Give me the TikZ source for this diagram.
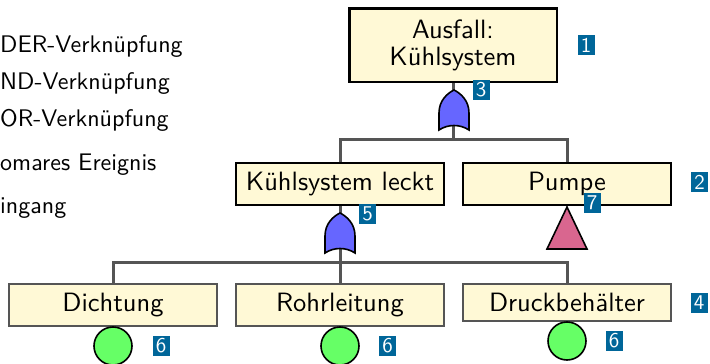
\documentclass[tikz,border=0pt]{standalone}
\usepackage{fontspec}
\setsansfont{lmsans10-regular.otf}
\definecolor{boxfill}{RGB}{255,249,214}
\definecolor{gateblue}{RGB}{102,102,255}
\definecolor{tripink}{RGB}{217,102,143}
\definecolor{evgreen}{RGB}{102,255,102}
\definecolor{conngray}{RGB}{85,85,85}
\definecolor{labblue}{RGB}{0,102,153}
\tikzset{
  boxtext/.style={font=\sffamily\fontsize{26.5}{27}\selectfont},
  topbox/.style={boxtext, draw=black, line width=2.5pt, fill=boxfill, minimum width=207.5pt, minimum height=73.5pt, align=center, inner sep=0pt},
  midbox/.style={boxtext, draw=black, line width=2pt, fill=boxfill, minimum width=208pt, inner xsep=4pt, inner ysep=9pt},
  lowbox/.style={boxtext, draw=conngray, line width=2pt, fill=boxfill, minimum width=208pt, inner xsep=4pt, inner ysep=9pt},
  conn/.style={draw=conngray, line width=3pt},
  event/.style={circle, draw=black, line width=1.6pt, fill=evgreen, minimum size=38pt, inner sep=0pt},
  tri/.style={draw=black, line width=1.6pt, fill=tripink, line join=miter},
  numlab/.style={fill=labblue, text=white, font=\sffamily\fontsize{21}{21}\selectfont, minimum width=17pt, minimum height=20pt, inner sep=0pt},
  legend/.style={inner sep=0pt, font=\sffamily\fontsize{24}{27}\selectfont},
  orgate/.pic={\path[draw=black, line width=1.6pt, fill=gateblue] (-15,0) -- (-15,-17) .. controls (-15,-30) and (-6,-37) .. (0,-40) .. controls (6,-37) and (15,-30) .. (15,-17) -- (15,0) .. controls (6,-6) and (-6,-6) .. (-15,0) -- cycle;}
}
\begin{document}
\begin{tikzpicture}[x=1pt, y=-1pt]
\useasboundingbox (0,0) rectangle (710,364);
% legend (cut at the left edge)
\node[legend, anchor=base west] (l1) at (0,52) {DER-Verknüpfung};
\node[legend, anchor=base west] (l2) at (0,89) {ND-Verknüpfung};
\node[legend, anchor=base west] (l3) at (0,126) {OR-Verknüpfung};
\node[legend, anchor=base west] (l4) at (0,170) {omares Ereignis};
\node[legend, anchor=base west] (l5) at (0,213) {ingang};
% boxes
\node[topbox] (top) at (453,45) {Ausfall:\\Kühlsystem};
\node[midbox, anchor=north] (kl) at (340,162) {Kühlsystem leckt};
\node[midbox, anchor=north] (pumpe) at (567,162) {Pumpe};
\node[lowbox, anchor=north] (dicht) at (113,283) {Dichtung};
\node[lowbox, anchor=north] (rohr) at (340,283) {Rohrleitung};
\node[lowbox, anchor=north] (druck) at (567,283) {Druckbehälter};
% connectors
\coordinate (bar1) at (453,139);
\coordinate (bar2) at (340,262);
\draw[conn] (top.south) -- (bar1);
\draw[conn] (kl.north) |- (bar1) -| (pumpe.north);
\draw[conn] (kl.south) -- (rohr.north);
\draw[conn] (dicht.north) |- (bar2) -| (druck.north);
% gates
\pic at (454,130) {orgate};
\pic at (340,253) {orgate};
\coordinate (t1) at (567,207);
\coordinate (t2) at (587,249);
\coordinate (t3) at (547,249);
\draw[tri] (t1) -- (t2) -- (t3) -- cycle;
% basic events
\node[event] (e1) at (113,346) {};
\node[event] (e2) at (340,346) {};
\node[event] (e3) at (567,341) {};
% number labels
\node[numlab] (n1) at (586,45) {1};
\node[numlab] (n2) at (699.5,182) {2};
\node[numlab] (n3) at (481,90) {3};
\node[numlab] (n4) at (699,303) {4};
\node[numlab] (n5) at (367.5,213.5) {5};
\node[numlab] (n7) at (592,203) {7};
\node[numlab] (n6a) at (161,346) {6};
\node[numlab] (n6b) at (387.5,345.5) {6};
\node[numlab] (n6c) at (614,341) {6};
\end{tikzpicture}
\end{document}
